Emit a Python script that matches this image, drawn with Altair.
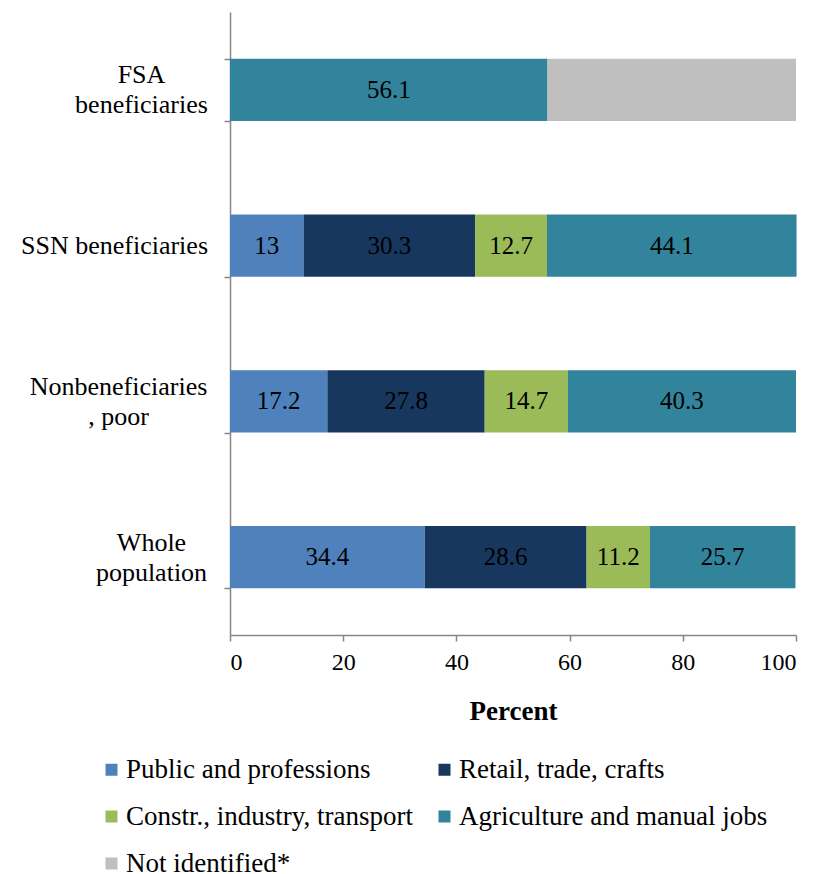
import altair as alt
import pandas as pd

groups = ["FSA beneficiaries", "SSN beneficiaries", "Nonbeneficiaries, poor", "Whole population"]
group_lines = {
    "FSA beneficiaries": ["FSA", "beneficiaries"],
    "SSN beneficiaries": ["SSN beneficiaries"],
    "Nonbeneficiaries, poor": ["Nonbeneficiaries", ", poor"],
    "Whole population": ["Whole", "population"],
}
categories = ["Public and professions", "Retail, trade, crafts",
              "Constr., industry, transport", "Agriculture and manual jobs",
              "Not identified*"]
colors = ["#4F81BD", "#17375E", "#9BBB59", "#31849B", "#BFBFBF"]

public = [0, 13, 17.2, 34.4]
retail = [0, 30.3, 27.8, 28.6]
constr = [0, 12.7, 14.7, 11.2]
agri = [56.1, 44.1, 40.3, 25.7]
notid = [43.9, 0, 0, 0]
series = [public, retail, constr, agri, notid]

rows = []
for ci, (cat, vals) in enumerate(zip(categories, series)):
    for g, v in zip(groups, vals):
        if v > 0:
            rows.append({"group": g, "cat": cat, "idx": ci, "value": v,
                         "show": cat != "Not identified*"})
df = pd.DataFrame(rows)

FONT = "Liberation Serif"
AXIS_GREY = "#868686"

# label expression for multi-line y labels
parts = []
for g, lines in group_lines.items():
    arr = "[" + ",".join("'" + l + "'" for l in lines) + "]"
    parts.append(f"datum.value === '{g}' ? {arr}")
label_expr = " : ".join(parts) + " : datum.value"

pad_vals = {"FSA beneficiaries": 83, "SSN beneficiaries": 110,
            "Nonbeneficiaries, poor": 106, "Whole population": 73}
label_padding = {
    "condition": [{"test": f"datum.value === '{g}'", "value": p} for g, p in pad_vals.items()],
    "value": 90,
}
label_offset = {
    "condition": [{"test": f"datum.value === '{g}'", "value": -15}
                  for g, lines in group_lines.items() if len(lines) == 2],
    "value": 0,
}

yenc = alt.Y("group:N", sort=groups,
             scale=alt.Scale(paddingInner=0.6, paddingOuter=0.3),
             axis=alt.Axis(title=None, labelExpr=label_expr, labelAlign="center",
                           labelBaseline="middle", labelPadding=label_padding,
                           labelOffset=label_offset, labelLimit=0,
                           labelFontSize=26, labelFont=FONT, labelColor="black",
                           tickBand="extent", tickSize=6, labelLineHeight=30,
                           domainColor=AXIS_GREY, tickColor=AXIS_GREY,
                           domainWidth=1.5, tickWidth=1.5))

base = alt.Chart(df).transform_stack(
    stack="value", groupby=["group"], as_=["x0", "x1"],
    sort=[alt.SortField("idx", order="ascending")]
).transform_calculate(mid="(datum.x0 + datum.x1) / 2")

bars = base.mark_bar().encode(
    x=alt.X("x0:Q", scale=alt.Scale(domain=[0, 100], nice=False),
            axis=alt.Axis(title="Percent", values=[0, 20, 40, 60, 80, 100],
                          tickSize=6, labelPadding=9, titlePadding=24,
                          labelFont=FONT, labelFontSize=24, labelColor="black",
                          titleFont=FONT, titleFontSize=27, titleColor="black",
                          titleFontWeight="bold", grid=False,
                          domainColor=AXIS_GREY, tickColor=AXIS_GREY,
                          domainWidth=1.5, tickWidth=1.5)),
    x2="x1:Q",
    y=yenc,
    color=alt.Color("cat:N", sort=categories,
                    scale=alt.Scale(domain=categories, range=colors),
                    legend=alt.Legend(title=None, orient="none", legendX=-132, legendY=744,
                                      columns=2, direction="horizontal",
                                      symbolType="square", symbolSize=144,
                                      symbolStrokeWidth=0, labelFontSize=27,
                                      labelFont=FONT, labelColor="black",
                                      labelLimit=0, labelOffset=1,
                                      rowPadding=19, columnPadding=18)),
    order=alt.Order("idx:Q"),
)

text = base.transform_filter("datum.show").mark_text(
    font=FONT, fontSize=25, color="black", baseline="middle", align="center"
).encode(
    x="mid:Q",
    y=alt.Y("group:N", sort=groups),
    text=alt.Text("value:Q"),
)

chart = alt.layer(bars, text).properties(
    width=566, height=623,
    autosize=alt.AutoSizeParams(type="none"),
    padding={"left": 230, "top": 12, "right": 21, "bottom": 239},
).configure_view(stroke=None)

chart.save("out.html", embed_options={"renderer": "svg", "actions": False})
